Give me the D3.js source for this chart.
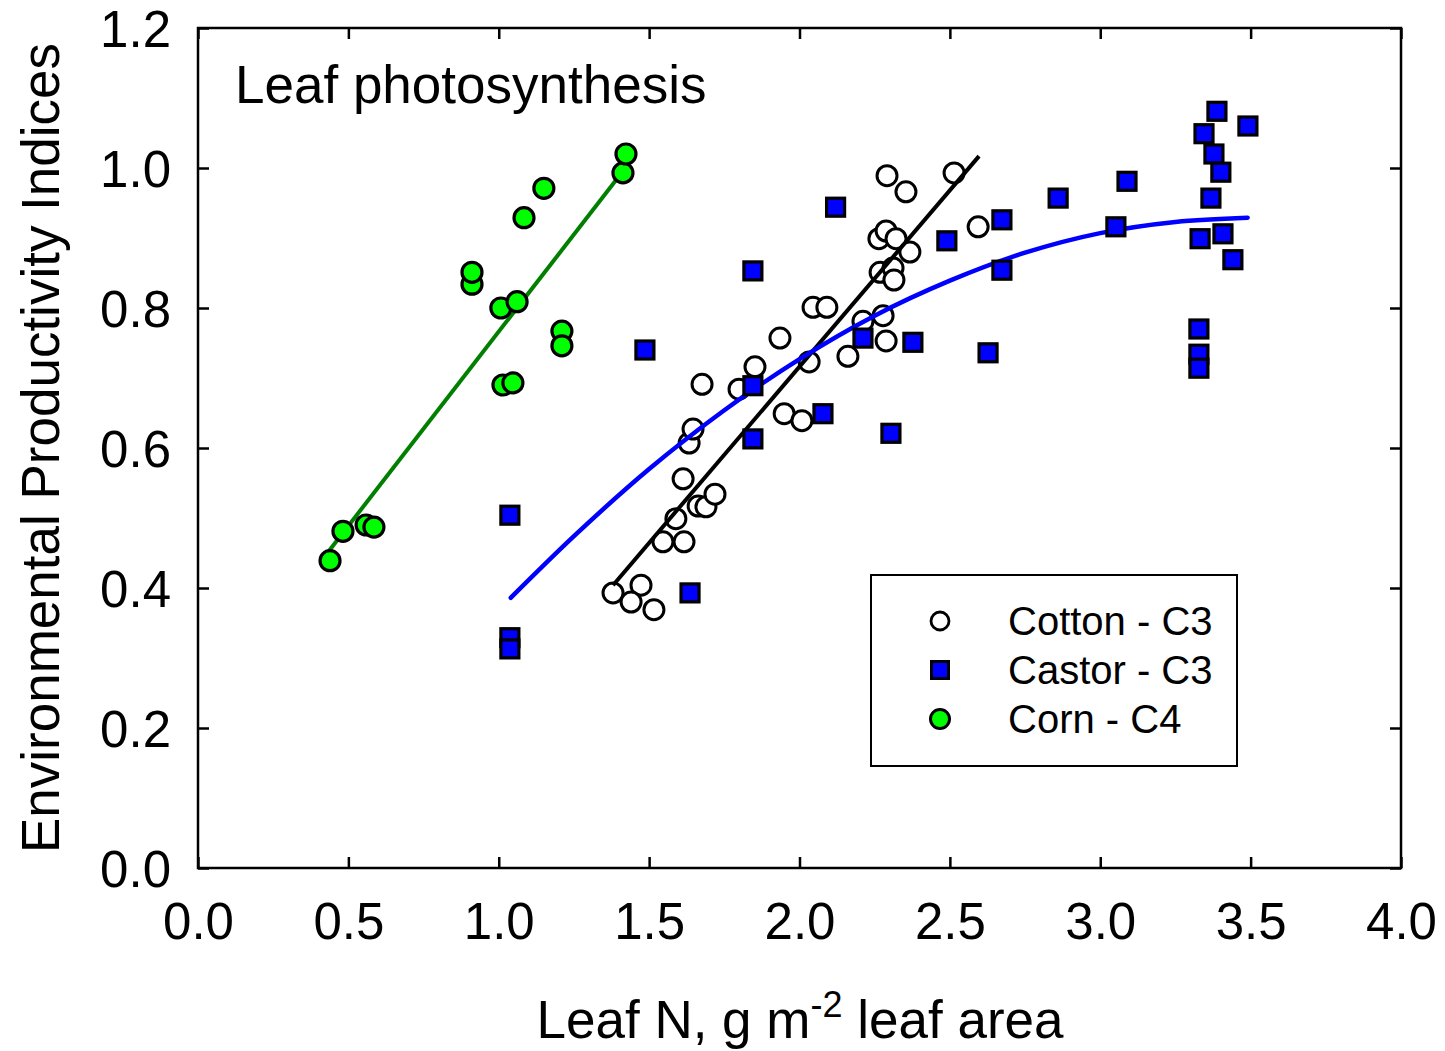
<!DOCTYPE html>
<html><head><meta charset="utf-8">
<script src="https://cdn.jsdelivr.net/npm/d3@7"></script>
<style>body{margin:0;background:#fff;} text{font-family:"Liberation Sans",Arial,sans-serif;fill:#000;}</style>
</head><body><svg id="c" width="1445" height="1051"></svg>
<script>
const xTicks = [0.0,0.5,1.0,1.5,2.0,2.5,3.0,3.5,4.0];
const yTicks = [0.0,0.2,0.4,0.6,0.8,1.0,1.2];
const seriesNames = ["Cotton - C3","Castor - C3","Corn - C4"];

const cottonX = [1.380,1.473,1.440,1.516,1.546,1.616,1.589,1.663,1.689,1.719,1.613,1.633,1.646,1.676,1.799,1.852,1.935,1.949,2.008,2.032,2.045,2.091,2.161,2.211,2.278,2.288,2.268,2.311,2.314,2.264,2.288,2.321,2.367,2.291,2.354,2.514,2.594];
const cottonY = [0.393,0.404,0.380,0.369,0.466,0.466,0.499,0.517,0.516,0.534,0.556,0.607,0.627,0.691,0.684,0.716,0.757,0.649,0.639,0.723,0.801,0.801,0.731,0.781,0.789,0.753,0.851,0.857,0.840,0.899,0.910,0.899,0.880,0.989,0.966,0.993,0.916];

const castorX = [1.037,1.037,1.037,1.486,1.636,1.845,1.845,1.845,2.078,2.120,2.211,2.304,2.377,2.490,2.627,2.673,2.673,2.860,3.052,3.089,3.388,3.491,3.345,3.378,3.401,3.368,3.332,3.408,3.441,3.328,3.328,3.328];
const castorY = [0.504,0.329,0.313,0.740,0.393,0.853,0.689,0.613,0.649,0.944,0.757,0.621,0.751,0.896,0.736,0.926,0.854,0.957,0.916,0.981,1.081,1.060,1.049,1.020,0.994,0.957,0.899,0.906,0.869,0.770,0.734,0.714];

const cornX = [0.439,0.482,0.559,0.585,0.911,0.911,1.007,1.061,1.014,1.047,1.084,1.150,1.210,1.210,1.413,1.423];
const cornY = [0.439,0.481,0.490,0.487,0.834,0.851,0.800,0.809,0.690,0.693,0.929,0.971,0.767,0.746,0.993,1.020];

// regression lines
const cornLineX = [0.432,1.403];
const cornLineY = [0.451,0.990];
const cottonLineX = [1.380,2.597];
const cottonLineY = [0.404,1.017];
const castorCurveX = [1.04,1.25,1.5,1.75,2.0,2.25,2.5,2.75,3.0,3.25,3.49];
const castorCurveY = [0.386,0.474,0.570,0.654,0.727,0.789,0.839,0.879,0.907,0.923,0.929];

const svg = d3.select("#c");
const L=198, R=1401, T=28, B=868;
const x = d3.scaleLinear().domain([0,4]).range([L,R]);
const y = d3.scaleLinear().domain([0,1.2]).range([B,T]);
const zip=(a,b)=>a.map((v,i)=>[v,b[i]]);
const fmt=d3.format(".1f");

// frame
svg.append("rect").attr("x",L).attr("y",T).attr("width",R-L).attr("height",B-T)
  .attr("fill","none").attr("stroke","#000").attr("stroke-width",2.5);

function styleAxis(g){g.select(".domain").remove();g.selectAll(".tick line").attr("stroke","#000").attr("stroke-width",2.5);}
svg.append("g").attr("transform",`translate(0,${B})`)
  .call(d3.axisBottom(x).tickValues(xTicks).tickSizeInner(-11).tickSizeOuter(0).tickPadding(35).tickFormat(fmt))
  .call(styleAxis).call(g=>g.selectAll("text").attr("font-size",51).attr("font-family","Liberation Sans, Arial").attr("dy","0.71em"));
svg.append("g").attr("transform",`translate(0,${T})`)
  .call(d3.axisTop(x).tickValues(xTicks).tickSizeInner(-11).tickSizeOuter(0).tickFormat(""))
  .call(styleAxis);
svg.append("g").attr("transform",`translate(${L},0)`)
  .call(d3.axisLeft(y).tickValues(yTicks).tickSizeInner(-11).tickSizeOuter(0).tickPadding(27).tickFormat(fmt))
  .call(styleAxis).call(g=>g.selectAll("text").attr("font-size",51).attr("font-family","Liberation Sans, Arial").attr("dy","0.36em"));
svg.append("g").attr("transform",`translate(${R},0)`)
  .call(d3.axisRight(y).tickValues(yTicks).tickSizeInner(-11).tickSizeOuter(0).tickFormat(""))
  .call(styleAxis);

// axis titles
const xt = svg.append("text").attr("x",800).attr("y",1038).attr("text-anchor","middle").attr("font-size",53);
xt.append("tspan").text("Leaf N, g m");
xt.append("tspan").attr("dy",-21).attr("font-size",36).text("-2");
xt.append("tspan").attr("dy",21).text(" leaf area");
svg.append("text").attr("transform","translate(59,448) rotate(-90)").attr("text-anchor","middle")
  .attr("font-size",53).text("Environmental Productivity Indices");
svg.append("text").attr("x",235).attr("y",103).attr("font-size",53).text("Leaf photosynthesis");

const line = d3.line().x(d=>x(d[0])).y(d=>y(d[1]));
const R0=10, SQ=18;

// cotton (drawn first)
svg.append("g").selectAll("circle").data(zip(cottonX,cottonY)).join("circle")
  .attr("cx",d=>x(d[0])).attr("cy",d=>y(d[1])).attr("r",R0)
  .attr("fill","#fff").attr("stroke","#000").attr("stroke-width",3);

// lines
svg.append("path").datum(zip(cottonLineX,cottonLineY)).attr("d",line).attr("fill","none").attr("stroke","#000").attr("stroke-width",4);
svg.append("path").datum(zip(castorCurveX,castorCurveY)).attr("d",d3.line().x(d=>x(d[0])).y(d=>y(d[1])).curve(d3.curveMonotoneX)).attr("fill","none").attr("stroke","#0000ff").attr("stroke-width",4.5).attr("stroke-linecap","round");
svg.append("path").datum(zip(cornLineX,cornLineY)).attr("d",line).attr("fill","none").attr("stroke","#007f00").attr("stroke-width",4);

// castor
svg.append("g").selectAll("rect").data(zip(castorX,castorY)).join("rect")
  .attr("x",d=>x(d[0])-SQ/2).attr("y",d=>y(d[1])-SQ/2).attr("width",SQ).attr("height",SQ)
  .attr("fill","#0000ff").attr("stroke","#000").attr("stroke-width",3.2);

// corn
svg.append("g").selectAll("circle").data(zip(cornX,cornY)).join("circle")
  .attr("cx",d=>x(d[0])).attr("cy",d=>y(d[1])).attr("r",R0)
  .attr("fill","#00ff00").attr("stroke","#000").attr("stroke-width",3.2);

// legend
const lg = svg.append("g");
lg.append("rect").attr("x",871).attr("y",575).attr("width",366).attr("height",191).attr("fill","#fff").attr("stroke","#000").attr("stroke-width",2);
const ly=[621,670,719];
lg.append("circle").attr("cx",940).attr("cy",ly[0]).attr("r",9).attr("fill","#fff").attr("stroke","#000").attr("stroke-width",2.8);
lg.append("rect").attr("x",940-8.5).attr("y",ly[1]-8.5).attr("width",17).attr("height",17).attr("fill","#0000ff").attr("stroke","#000").attr("stroke-width",3);
lg.append("circle").attr("cx",940).attr("cy",ly[2]).attr("r",9.5).attr("fill","#00ff00").attr("stroke","#000").attr("stroke-width",3);
seriesNames.forEach((n,i)=>lg.append("text").attr("x",1008).attr("y",ly[i]).attr("dy","0.36em").attr("font-size",40).text(n));
</script></body></html>
